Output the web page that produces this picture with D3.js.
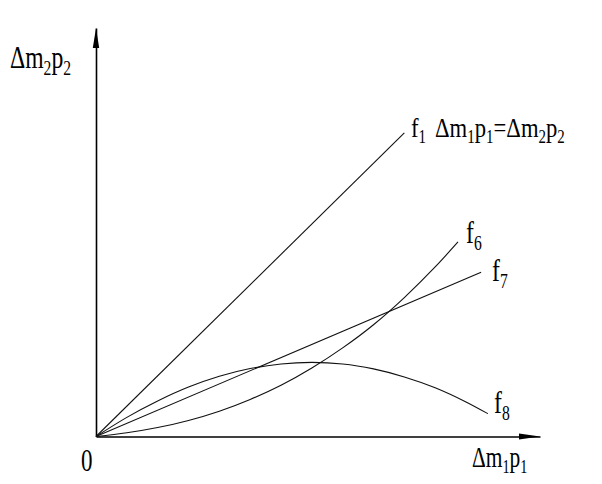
<!DOCTYPE html>
<html>
<head>
<meta charset="utf-8">
<script src="https://cdn.jsdelivr.net/npm/d3@7"></script>
<style>
  html, body { margin: 0; padding: 0; background: #fff; }
  svg { display: block; }
  text { font-family: "Liberation Serif", "Times New Roman", serif; fill: #000; }
</style>
</head>
<body>
<svg id="chart" width="602" height="484"></svg>
<script>
// ---- data (estimated from the figure) ----
const xDomain = [0, 14.4];
const yDomain = [0, 13.23];

const f1X = [0, 10];
const f1Y = [0, 9.83];

const f7X = [0, 12.49];
const f7Y = [0, 5.32];

const f6X = [0, 1, 2, 3, 4, 5, 6, 7, 8, 9, 10, 11, 11.74];
const f6Y = [0, 0.12, 0.29, 0.52, 0.82, 1.2, 1.66, 2.22, 2.87, 3.62, 4.5, 5.49, 6.3];

const f8X = [0, 1, 2, 3, 4, 5, 6, 7, 8, 9, 10, 11, 12, 12.71];
const f8Y = [0, 0.62, 1.15, 1.6, 1.95, 2.2, 2.35, 2.4, 2.35, 2.19, 1.93, 1.58, 1.12, 0.74];

const originLabel = "0";

// ---- drawing ----
const svg = d3.select("#chart");
const x = d3.scaleLinear().domain(xDomain).range([96, 540]);
const y = d3.scaleLinear().domain(yDomain).range([436.5, 28]);

// axes (no ticks), with arrow heads
svg.append("g")
  .attr("transform", `translate(0,${y(0)})`)
  .call(d3.axisBottom(x).tickValues([]).tickSizeOuter(0))
  .select(".domain").attr("stroke", "#000").attr("stroke-width", 1.6);
svg.append("g")
  .attr("transform", `translate(${x(0)},0)`)
  .call(d3.axisLeft(y).tickValues([]).tickSizeOuter(0))
  .select(".domain").attr("stroke", "#000").attr("stroke-width", 1.6);

const xMax = x(xDomain[1]), yMax = y(yDomain[1]);
svg.append("path")
  .attr("d", `M${xMax},${y(0)} L${xMax - 21},${y(0) - 3} L${xMax - 21},${y(0) + 3} Z`)
  .attr("fill", "#000");
svg.append("path")
  .attr("d", `M${x(0)},${yMax} L${x(0) - 3.2},${yMax + 20} L${x(0) + 3.2},${yMax + 20} Z`)
  .attr("fill", "#000");

const line = d3.line().x(d => x(d[0])).y(d => y(d[1])).curve(d3.curveMonotoneX);
const series = [
  [f1X, f1Y], [f7X, f7Y], [f6X, f6Y], [f8X, f8Y]
];
series.forEach(([xs, ys]) => {
  svg.append("path")
    .datum(xs.map((v, i) => [v, ys[i]]))
    .attr("d", line)
    .attr("fill", "none")
    .attr("stroke", "#111")
    .attr("stroke-width", 1.1);
});

// ---- labels: condensed serif with subscripts ----
function label(px, py, sx, size, parts) {
  const g = svg.append("g").attr("transform", `translate(${px},${py}) scale(${sx},1)`);
  const t = g.append("text").attr("font-size", size);
  let offset = 0;
  parts.forEach(p => {
    const isSub = typeof p !== "string";
    const target = isSub ? size * 0.22 : 0;
    t.append("tspan")
      .attr("font-size", isSub ? size * 0.66 : size)
      .attr("dy", target - offset)
      .text(isSub ? p.t : p);
    offset = target;
  });
  return t;
}
const sub = t => ({ t });

label(10, 68, 0.74, 32, ["\u0394m", sub("2"), "p", sub("2")]);
label(472, 467, 0.74, 29, ["\u0394m", sub("1"), "p", sub("1")]);
label(81, 471, 0.72, 32, [originLabel]);

label(411, 137, 0.84, 27, ["f", sub("1")]);
label(435, 137, 0.84, 27, ["\u0394m", sub("1"), "p", sub("1"), "=\u0394m", sub("2"), "p", sub("2")]);

label(466, 243, 0.74, 32, ["f", sub("6")]);
label(492, 281, 0.74, 32, ["f", sub("7")]);
label(494, 413, 0.74, 32, ["f", sub("8")]);
</script>
</body>
</html>
